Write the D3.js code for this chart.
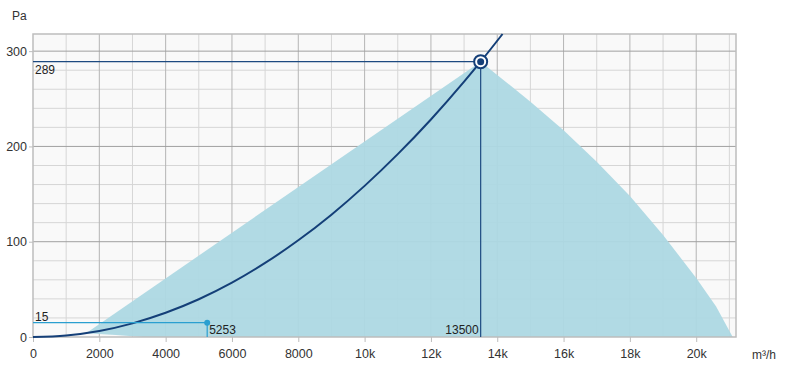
<!DOCTYPE html>
<html>
<head>
<meta charset="utf-8">
<script src="https://cdn.jsdelivr.net/npm/d3@7"></script>
<style>
  body { margin: 0; background: #fff; }
  text { font-family: "Liberation Sans", Arial, sans-serif; }
</style>
</head>
<body>
<svg id="chart" width="787" height="374"></svg>
<script>
// airflow ticks (m3/h) and pressure ticks (Pa)
var xTicks = [0, 2000, 4000, 6000, 8000, 10000, 12000, 14000, 16000, 18000, 20000];
var xTickLabels = ['0', '2000', '4000', '6000', '8000', '10k', '12k', '14k', '16k', '18k', '20k'];
var yTicks = [0, 100, 200, 300];

// working range of the fan (shaded area)
var rangeFlow     = [1600, 13500, 14000, 15000, 16000, 17000, 18000, 19000, 20000, 20600, 21100, 3300, 2500, 1600];
var rangePressure = [4,    289,   275,   247,   217,   184,   148,   107,   62,    32,    0,     0,    2,    4];

// system curve
var sysFlow     = [0, 1000, 2000, 3000, 4000, 5000, 6000, 7000, 8000, 9000, 10000, 11000, 12000, 13000, 13500, 14160];
var sysPressure = [0, 1.6,  6.3,  14.3, 25.4, 39.6, 57,   77.7, 101.5, 128.4, 158.6, 191.9, 228.3, 268, 289, 318];

// operating points
var opFlow = [13500, 5253];
var opPressure = [289, 15];

var svg = d3.select('#chart');
var margin = {left: 33, top: 34, right: 51, bottom: 37};
var w = 787 - margin.left - margin.right;
var h = 374 - margin.top - margin.bottom;

var x = d3.scaleLinear().domain([0, 21200]).range([margin.left, margin.left + w]);
var y = d3.scaleLinear().domain([0, 318]).range([margin.top + h, margin.top]);

// plot background
svg.append('rect')
   .attr('x', x(0)).attr('y', y(318))
   .attr('width', x(21200) - x(0)).attr('height', y(0) - y(318))
   .style('fill', '#f9f9f9');

// minor grid
var g = svg.append('g');
g.selectAll('line.vminor')
 .data(d3.range(1000, 21200, 2000))
 .enter().append('line')
 .attr('x1', function(d) {return x(d)}).attr('x2', function(d) {return x(d)})
 .attr('y1', y(0)).attr('y2', y(318))
 .style('stroke', '#d6d6d6');
g.selectAll('line.hminor')
 .data(d3.range(20, 318, 20).filter(function(d) {return d % 100 != 0}))
 .enter().append('line')
 .attr('y1', function(d) {return y(d)}).attr('y2', function(d) {return y(d)})
 .attr('x1', x(0)).attr('x2', x(21200))
 .style('stroke', '#d6d6d6');

// major grid
g.selectAll('line.vmajor')
 .data(xTicks.slice(1))
 .enter().append('line')
 .attr('x1', function(d) {return x(d)}).attr('x2', function(d) {return x(d)})
 .attr('y1', y(0)).attr('y2', y(318))
 .style('stroke', '#b5b5b5');
g.selectAll('line.hmajor')
 .data(yTicks.slice(1))
 .enter().append('line')
 .attr('y1', function(d) {return y(d)}).attr('y2', function(d) {return y(d)})
 .attr('x1', x(0)).attr('x2', x(21200))
 .style('stroke', '#a0a0a0');

// shaded working range
var area = d3.line()
  .x(function(d, i) {return x(rangeFlow[i])})
  .y(function(d, i) {return y(rangePressure[i])});
svg.append('path')
   .attr('d', area(rangeFlow) + 'Z')
   .style('fill', '#add8e3')
   .style('fill-opacity', 0.95);

// plot border
svg.append('rect')
   .attr('x', x(0)).attr('y', y(318))
   .attr('width', x(21200) - x(0)).attr('height', y(0) - y(318))
   .style('fill', 'none').style('stroke', '#bdbdbd').style('stroke-width', 1.5);

// axes
var xAxis = d3.axisBottom(x).tickValues(xTicks)
  .tickFormat(function(d, i) {return xTickLabels[i]}).tickSize(5).tickPadding(7);
var xa = svg.append('g').attr('transform', 'translate(0,' + y(0) + ')').call(xAxis);
xa.select('.domain').remove();
xa.selectAll('line').style('stroke', '#bdbdbd');
xa.selectAll('text').style('font-size', '12.5px').style('fill', '#333');

var yAxis = d3.axisLeft(y).tickValues(yTicks).tickSize(4).tickPadding(2);
var ya = svg.append('g').attr('transform', 'translate(' + x(0) + ',0)').call(yAxis);
ya.select('.domain').remove();
ya.selectAll('line').style('stroke', '#bdbdbd');
ya.selectAll('text').style('font-size', '12.5px').style('fill', '#333');

svg.append('text').attr('x', 12).attr('y', 20).text('Pa')
   .style('font-size', '12px').style('fill', '#333');
svg.append('text').attr('x', 752).attr('y', 359).text('m³/h')
   .style('font-size', '12px').style('fill', '#333');

// system curve
var sysLine = d3.line()
  .x(function(d, i) {return x(sysFlow[i])})
  .y(function(d, i) {return y(sysPressure[i])})
  .curve(d3.curveMonotoneX);
svg.append('path')
   .attr('d', sysLine(sysFlow))
   .style('fill', 'none').style('stroke', '#143f78').style('stroke-width', 2);

// operating point guide lines
var colors = ['#1d4a80', '#2a9fd0'];
opFlow.forEach(function(f, i) {
  svg.append('line')
     .attr('x1', x(0)).attr('x2', x(f))
     .attr('y1', y(opPressure[i])).attr('y2', y(opPressure[i]))
     .style('stroke', colors[i]).style('stroke-width', 1.2);
  svg.append('line')
     .attr('x1', x(f)).attr('x2', x(f))
     .attr('y1', y(opPressure[i])).attr('y2', y(0))
     .style('stroke', colors[i]).style('stroke-width', 1.2);
});

// main point marker
svg.append('circle').attr('cx', x(opFlow[0])).attr('cy', y(opPressure[0])).attr('r', 6.5)
   .style('fill', '#fff').style('stroke', '#143f78').style('stroke-width', 2);
svg.append('circle').attr('cx', x(opFlow[0])).attr('cy', y(opPressure[0])).attr('r', 3.5)
   .style('fill', '#143f78');
// second point marker
svg.append('circle').attr('cx', x(opFlow[1])).attr('cy', y(opPressure[1])).attr('r', 3)
   .style('fill', '#2a9fd0');

// labels
svg.append('text').attr('x', x(0) + 2).attr('y', y(opPressure[0]) + 12).text(opPressure[0])
   .style('font-size', '12px').style('fill', '#222');
svg.append('text').attr('x', x(opFlow[0]) - 2).attr('y', y(0) - 3).text(opFlow[0])
   .attr('text-anchor', 'end').style('font-size', '12px').style('fill', '#222');
svg.append('text').attr('x', x(0) + 2).attr('y', y(opPressure[1]) - 2).text(opPressure[1])
   .style('font-size', '12px').style('fill', '#222');
svg.append('text').attr('x', x(opFlow[1]) + 2).attr('y', y(0) - 3).text(opFlow[1])
   .style('font-size', '12px').style('fill', '#222');
</script>
</body>
</html>
